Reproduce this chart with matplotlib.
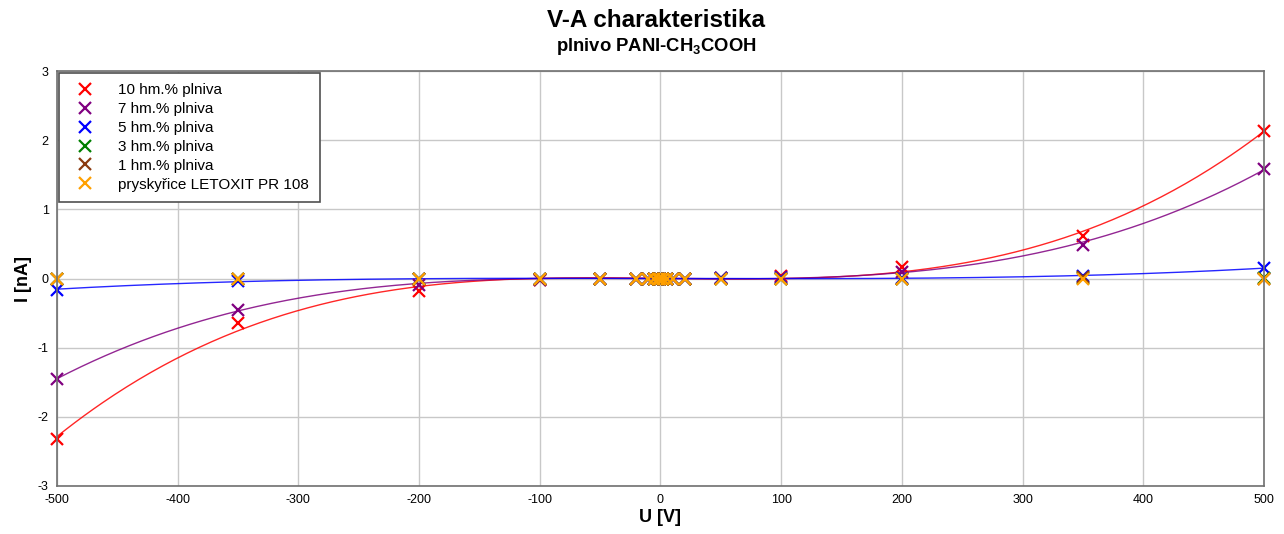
import numpy as np
import matplotlib
matplotlib.use("Agg")
import matplotlib.pyplot as plt

plt.rcParams['font.family'] = ['Liberation Sans', 'DejaVu Sans']
plt.rcParams['mathtext.fontset'] = 'custom'
plt.rcParams['mathtext.rm'] = 'Liberation Sans:bold'
plt.rcParams['mathtext.bf'] = 'Liberation Sans:bold'
plt.rcParams['axes.unicode_minus'] = False

voltages = [-500, -350, -200, -100, -50, -20, -10, -5, -2, 0, 2, 5, 10, 20, 50, 100, 200, 350, 500]

i_10 = [-2.32, -0.65, -0.18, -0.02, -0.005, 0, 0, 0, 0, 0, 0, 0, 0, 0, 0.005, 0.03, 0.17, 0.62, 2.14]
i_7 = [-1.45, -0.45, -0.10, -0.02, -0.004, 0, 0, 0, 0, 0, 0, 0, 0, 0, 0.004, 0.02, 0.10, 0.48, 1.59]
i_5 = [-0.16, -0.03, -0.01, -0.003, -0.001, 0, 0, 0, 0, 0, 0, 0, 0, 0, 0.001, 0.003, 0.01, 0.04, 0.15]
i_3 = [-0.01, -0.01, 0, 0, 0, 0, 0, 0, 0, 0, 0, 0, 0, 0, 0, 0, 0, 0.01, 0.01]
i_1 = [-0.01, -0.01, 0, 0, 0, 0, 0, 0, 0, 0, 0, 0, 0, 0, 0, 0, 0, 0.02, 0.0]
i_resin = [0, 0, 0, 0, 0, 0, 0, 0, 0, 0, 0, 0, 0, 0, 0, 0, 0, 0, 0]

labels = ["10 hm.% plniva", "7 hm.% plniva", "5 hm.% plniva", "3 hm.% plniva",
          "1 hm.% plniva", "pryskyřice LETOXIT PR 108"]
colors = ["#ff0000", "#800080", "#0000ff", "#008000", "#8b3a0f", "#ffa000"]
series = [i_10, i_7, i_5, i_3, i_1, i_resin]
fitted = [True, True, True, False, False, False]

x_ticks = [-500, -400, -300, -200, -100, 0, 100, 200, 300, 400, 500]
y_ticks = [-3, -2, -1, 0, 1, 2, 3]

fig = plt.figure(figsize=(12.84, 5.34), dpi=100)
ax = fig.add_axes([0.0444, 0.0899, 0.9400, 0.7771])

v = np.array(voltages, dtype=float)
vv = np.linspace(-500, 500, 400)
for vals, c, f in zip(series, colors, fitted):
    if f:
        coef = np.polyfit(v, np.array(vals), 3)
        ax.plot(vv, np.polyval(coef, vv), color=c, lw=1.0, alpha=0.85, zorder=2)

for vals, c, lab in zip(series, colors, labels):
    ax.plot(voltages, vals, linestyle='none', marker='x', markersize=9,
            markeredgewidth=1.6, color=c, label=lab, zorder=3, clip_on=False)

ax.set_xlim(-500, 500)
ax.set_ylim(-3, 3)
ax.set_xticks(x_ticks)
ax.set_yticks(y_ticks)
ax.tick_params(length=0, labelsize=9, pad=6)
ax.grid(True, color='#c8c8c8', lw=1)
ax.set_axisbelow(True)
for s in ax.spines.values():
    s.set_color('#707070')
    s.set_linewidth(1.2)
    s.set_zorder(4)

ax.set_xlabel("U [V]", fontsize=13, fontweight='bold', labelpad=2)
ax.set_ylabel("I [nA]", fontsize=13, fontweight='bold', labelpad=4)

fig.text(0.511, 0.962, "V-A charakteristika", ha='center', va='center',
         fontsize=17.5, fontweight='bold')
fig.text(0.511, 0.912, r"plnivo PANI-CH$_{3}$COOH", ha='center', va='center',
         fontsize=13.3, fontweight='bold')

leg = ax.legend(loc='upper left', bbox_to_anchor=(0.0, 1.0), fontsize=11,
                frameon=True, fancybox=False, borderpad=0.7, labelspacing=0.32,
                handletextpad=1.2, handlelength=2.0, borderaxespad=0.1)
leg.get_frame().set_edgecolor('#505050')
leg.get_frame().set_linewidth(1.2)
leg.get_frame().set_alpha(1)
leg.set_zorder(5)

fig.savefig("out.png", dpi=100)
